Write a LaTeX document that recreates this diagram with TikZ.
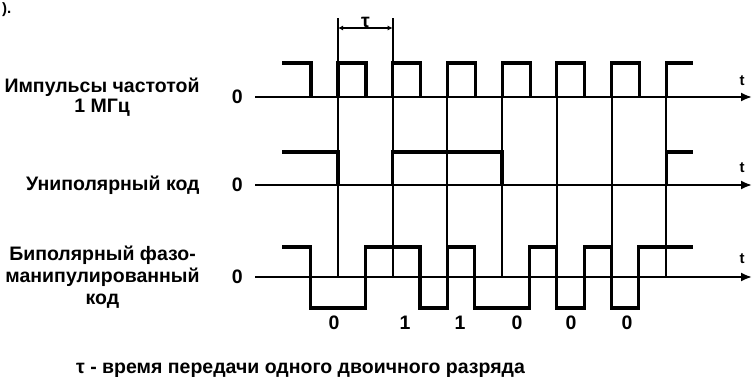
\documentclass[tikz,border=0pt]{standalone}
\usepackage{fontspec}
\setmainfont{Liberation Sans}
\usetikzlibrary{positioning,arrows.meta}

\begin{document}
\begin{tikzpicture}[
    x=1pt, y=-1pt,
    node distance=11pt,
    lbl/.style={font=\fontsize{19.5}{22}\selectfont\bfseries, inner sep=1pt, align=center},
    tlbl/.style={font=\fontsize{15}{15}\selectfont\bfseries, inner sep=0pt},
    axis/.style={line width=2pt, -{Latex[length=11pt,width=9pt]}},
    sig/.style={line width=3.2pt, line join=miter},
    grid/.style={line width=2pt},
    dim/.style={line width=1.8pt, {Latex[length=5pt,width=5pt]}-{Latex[length=5pt,width=5pt]}}
]
\useasboundingbox (0,0) rectangle (753,376);
\node[tlbl, font=\fontsize{15}{15}\selectfont\bfseries, anchor=base west] (frag) at (2,13) {).};

% time axes
\coordinate (a1) at (255,97);  \coordinate (e1) at (752,97);
\coordinate (a2) at (255,185); \coordinate (e2) at (752,185);
\coordinate (a3) at (255,277); \coordinate (e3) at (752,277);
\draw[axis] (a1) -- (e1);
\draw[axis] (a2) -- (e2);
\draw[axis] (a3) -- (e3);
\node[tlbl] (t1) at (742,81) {t};
\node[tlbl] (t2) at (742,168) {t};
\node[tlbl] (t3) at (742,259) {t};

% zero levels and row names
\node[lbl, left=of a1] (z1) {0};
\node[lbl, left=of a2] (z2) {0};
\node[lbl, left=of a3] (z3) {0};
\node[lbl, font=\fontsize{19.5}{20}\selectfont\bfseries, left=30pt of z1] (clk) {Импульсы частотой\\1 МГц};
\node[lbl, left=30pt of z2] (uni) {Униполярный код};
\node[lbl, left=30pt of z3] (bip) {Биполярный фазо-\\манипулированный\\код};

% bit boundaries
\foreach \i in {0,...,6} {
    \pgfmathsetmacro\xx{338+54.7*\i}
    \draw[grid] (\xx,63) -- (\xx,277);
}
\coordinate (d1) at (338,28);
\coordinate (d2) at (392.7,28);
\draw[grid] (338,18) -- (338,63);
\draw[grid] (392.7,18) -- (392.7,63);
\draw[dim] (d1) -- (d2);
\node[lbl, anchor=south] (tau) at (365.4,29) {τ};

% clock pulses
\draw[sig] (282,63) -- (311,63) -- (311,97);
\foreach \i in {0,...,5} {
    \pgfmathsetmacro\xx{338+54.7*\i}
    \draw[sig] (\xx,97) -- (\xx,63) -- (\xx+28,63) -- (\xx+28,97);
}
\draw[sig] (666.2,97) -- (666.2,63) -- (693,63);

% unipolar code
\draw[sig] (282,152) -- (338,152) -- (338,185);
\draw[sig] (392.7,185) -- (392.7,152) -- (502,152) -- (502,185);
\draw[sig] (666.2,185) -- (666.2,152) -- (693,152);

% bipolar phase code
\draw[sig] (282,247) -- (310.6,247) -- (310.6,308) -- (365.4,308) -- (365.4,247)
    -- (420,247) -- (420,308) -- (447.4,308) -- (447.4,247) -- (474.7,247)
    -- (474.7,308) -- (529.4,308) -- (529.4,247) -- (556.8,247) -- (556.8,308)
    -- (584.1,308) -- (584.1,247) -- (611.5,247) -- (611.5,308) -- (638.8,308)
    -- (638.8,247) -- (693,247);

% bits
\node[lbl] (bit1) at (334,323) {0};
\node[lbl] (bit2) at (405,323) {1};
\node[lbl] (bit3) at (460,323) {1};
\node[lbl] (bit4) at (517,323) {0};
\node[lbl] (bit5) at (571,323) {0};
\node[lbl] (bit6) at (627,323) {0};

\node[lbl, anchor=base west] (note) at (75,373) {τ - время передачи одного двоичного разряда};
\end{tikzpicture}
\end{document}
